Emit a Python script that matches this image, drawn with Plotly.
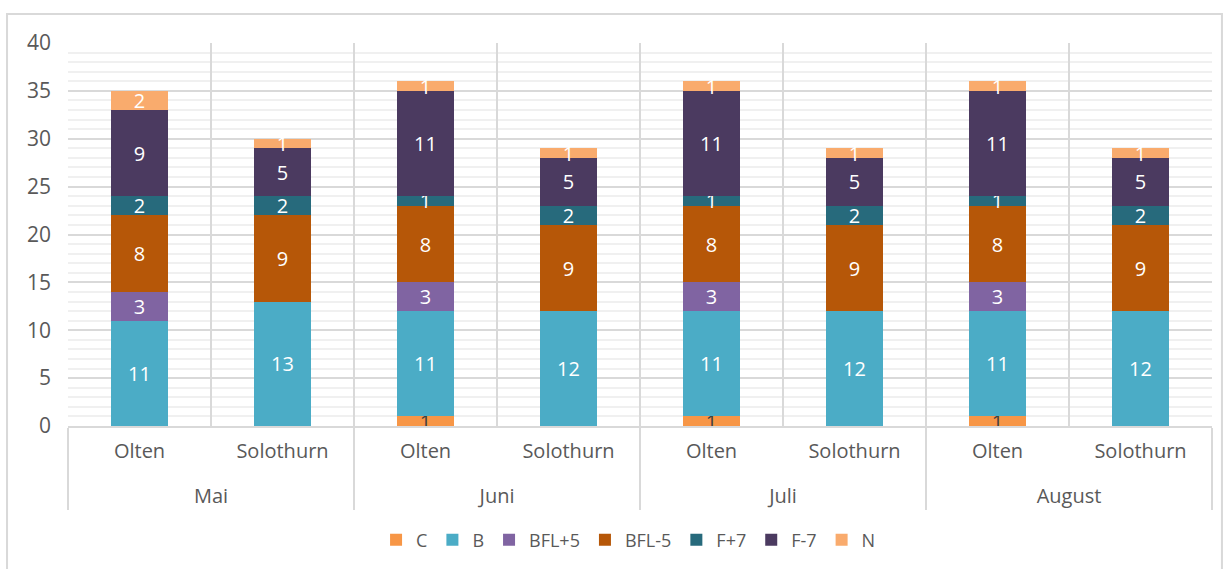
import plotly.graph_objects as go

months = ["Mai", "Mai", "Juni", "Juni", "Juli", "Juli", "August", "August"]
cities = ["Olten", "Solothurn"] * 4

series_names = ["C", "B", "BFL+5", "BFL-5", "F+7", "F-7", "N"]
c_vals = [0, 0, 1, 0, 1, 0, 1, 0]
b_vals = [11, 13, 11, 12, 11, 12, 11, 12]
bfl_plus5 = [3, 0, 3, 0, 3, 0, 3, 0]
bfl_minus5 = [8, 9, 8, 9, 8, 9, 8, 9]
f_plus7 = [2, 2, 1, 2, 1, 2, 1, 2]
f_minus7 = [9, 5, 11, 5, 11, 5, 11, 5]
n_vals = [2, 1, 1, 1, 1, 1, 1, 1]

values = [c_vals, b_vals, bfl_plus5, bfl_minus5, f_plus7, f_minus7, n_vals]
colors = ["#F79646", "#4BACC6", "#8064A2", "#B65708", "#276A7C", "#4B3A60", "#F9AB6D"]
label_colors = ["#404040", "white", "white", "white", "white", "white", "white"]

FONT = "Open Sans, Noto Sans, sans-serif"

# a small blank second line under each city pushes the month row further down
city_labels = [c + "<br><span style='font-size:6px'>&nbsp;</span>" for c in cities]

fig = go.Figure()
for name, vals, col, lc in zip(series_names, values, colors, label_colors):
    fig.add_trace(
        go.Bar(
            x=[months, city_labels],
            y=vals,
            name=name,
            marker=dict(color=col, line=dict(width=0)),
            text=[str(v) if v else "" for v in vals],
            textposition="inside",
            insidetextanchor="middle",
            textangle=0,
            constraintext="none",
            textfont=dict(color=lc, size=20, family=FONT),
            hoverinfo="skip",
        )
    )

fig.update_layout(
    width=1229,
    height=569,
    barmode="stack",
    bargap=0.6,
    plot_bgcolor="white",
    paper_bgcolor="white",
    margin=dict(l=68, r=17, t=43, b=143, autoexpand=False),
    font=dict(family=FONT, color="#595959", size=20),
    legend=dict(
        orientation="h",
        x=0.49,
        xanchor="center",
        y=-0.298,
        yanchor="middle",
        font=dict(size=18, color="#595959"),
        itemwidth=30,
        traceorder="normal",
    ),
    xaxis=dict(
        type="multicategory",
        automargin=False,
        tickson="boundaries",
        showgrid=True,
        gridcolor="#D9D9D9",
        gridwidth=2,
        showline=True,
        linecolor="#D9D9D9",
        linewidth=2,
        ticks="",
        showdividers=True,
        dividercolor="#D9D9D9",
        dividerwidth=2,
        ticklabelstandoff=6,
        tickfont=dict(size=20, color="#595959"),
    ),
    yaxis=dict(
        automargin=False,
        range=[0, 40],
        dtick=5,
        showgrid=True,
        gridcolor="#D9D9D9",
        gridwidth=2,
        zeroline=False,
        ticklabelstandoff=16,
        tickfont=dict(size=21, color="#595959"),
        minor=dict(dtick=1, showgrid=True, gridcolor="#F0F0F0", gridwidth=2),
    ),
    shapes=[
        dict(
            type="rect",
            xref="paper",
            yref="paper",
            x0=-0.0533,
            x1=1.0087,
            y0=-0.42,
            y1=1.0757,
            line=dict(color="#D9D9D9", width=2),
            fillcolor="rgba(0,0,0,0)",
            layer="below",
        )
    ],
)

fig.write_html(
    "out.html",
    config={"displayModeBar": False},
    post_script="document.body.style.margin='0';document.body.style.overflow='hidden';",
)
